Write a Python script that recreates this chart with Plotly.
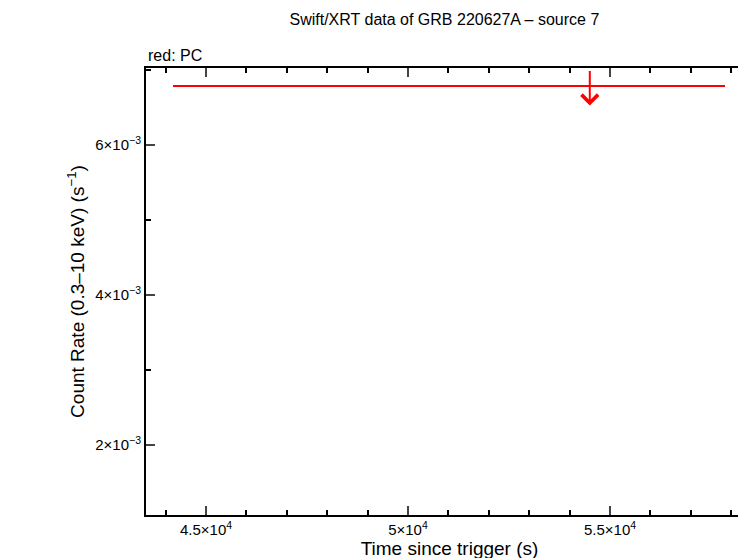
import plotly.graph_objects as go

# upper limit bin (PC mode)
t_mid = [54500]
t_lo = [44184]
t_hi = [57847]
rate_ul = [6.787e-3]

xtick_vals = [45000, 50000, 55000]
xtick_text = ["4.5×10<sup>4</sup>", "5×10<sup>4</sup>", "5.5×10<sup>4</sup>"]
ytick_vals = [2e-3, 4e-3, 6e-3]
ytick_text = ["2×10<sup>−3</sup>", "4×10<sup>−3</sup>", "6×10<sup>−3</sup>"]

fig = go.Figure()
fig.add_trace(go.Scatter(
    x=t_mid, y=rate_ul, mode='markers',
    marker=dict(size=1, color='red'),
    error_x=dict(type='data', symmetric=False,
                 array=[h - m for h, m in zip(t_hi, t_mid)],
                 arrayminus=[m - l for m, l in zip(t_mid, t_lo)],
                 color='red', thickness=2, width=0),
    showlegend=False,
))
# downward arrow for the upper limit
fig.add_annotation(x=t_mid[0], y=rate_ul[0] - 0.26e-3, ax=t_mid[0], ay=rate_ul[0] + 0.22e-3,
                   xref='x', yref='y', axref='x', ayref='y', text='',
                   showarrow=True, arrowhead=4, arrowsize=1.6, arrowwidth=2, arrowcolor='red')
fig.add_annotation(text='red: PC', xref='paper', yref='paper', x=0, y=1.005,
                   xanchor='left', yanchor='bottom', showarrow=False, font=dict(size=16))

fig.update_layout(
    width=746, height=558,
    margin=dict(l=138, r=1, t=60, b=51, autoexpand=False),
    plot_bgcolor='white', paper_bgcolor='white',
    font=dict(family='Liberation Sans, Arial', size=16, color='black'),
    title=dict(text='Swift/XRT data of GRB 220627A – source 7', x=0.585, xanchor='center',
               y=0.99, yanchor='top', font=dict(size=16)),
)
fig.update_xaxes(range=[43515, 58540], tickvals=xtick_vals, ticktext=xtick_text,
                 tickfont=dict(size=15),
                 ticks='inside', ticklen=9, tickwidth=1.5, mirror='ticks', showline=True,
                 linecolor='black', linewidth=2, showgrid=False, zeroline=False,
                 minor=dict(dtick=1000, tick0=0, ticks='inside', ticklen=5, tickcolor='black'),
                 title=dict(text='Time since trigger (s)', standoff=2))
fig.update_yaxes(range=[1.067e-3, 7.027e-3], tickvals=ytick_vals, ticktext=ytick_text,
                 tickfont=dict(size=15),
                 ticks='inside', ticklen=9, tickwidth=1.5, mirror='ticks', showline=True,
                 linecolor='black', linewidth=2, showgrid=False, zeroline=False,
                 minor=dict(dtick=1e-3, tick0=0, ticks='inside', ticklen=5, tickcolor='black'),
                 title=dict(text='Count Rate (0.3–10 keV) (s<sup>−1</sup>)', standoff=6))

fig.write_html("out.html")
